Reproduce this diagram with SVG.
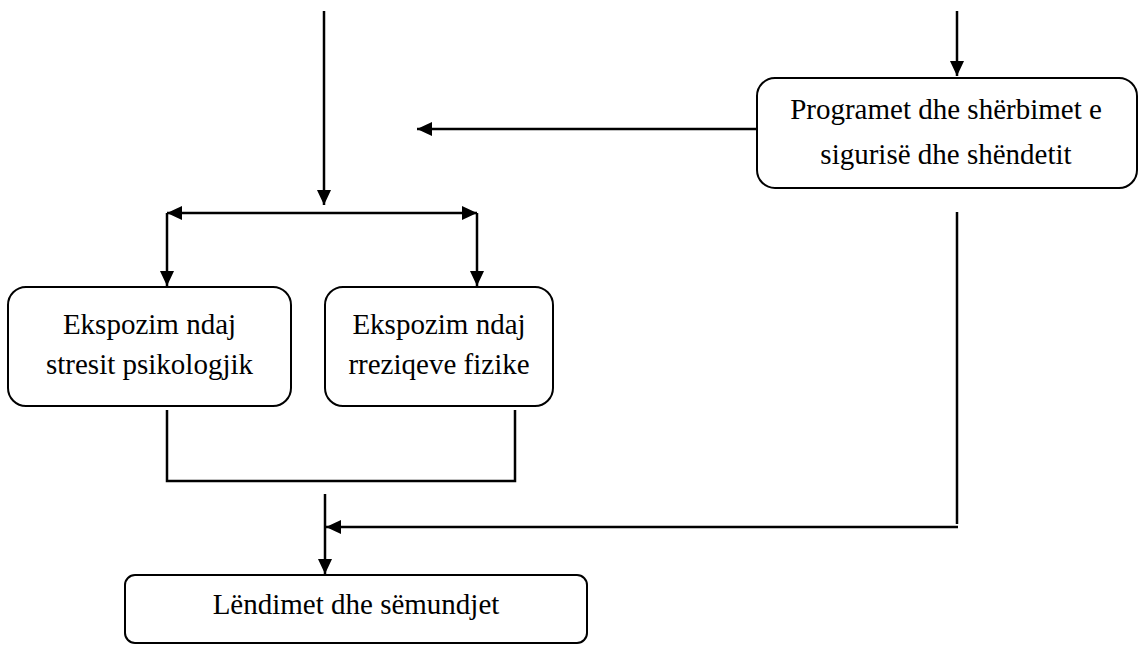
<svg xmlns="http://www.w3.org/2000/svg" width="1138" height="645" viewBox="0 0 1138 645">
<style>
.box{fill:#fff;stroke:#000;stroke-width:2}
.lbl{font-family:"Liberation Serif","Times New Roman",serif;font-size:29px;fill:#000;text-anchor:middle}
.ln{fill:none;stroke:#000;stroke-width:2.5}
.arr{fill:none;stroke:#000;stroke-width:2.5;marker-end:url(#ah)}
</style>
<defs>
<marker id="ah" markerUnits="userSpaceOnUse" markerWidth="16" markerHeight="14" viewBox="0 0 16 14" refX="15" refY="7" orient="auto">
<path d="M0,0 L15,7 L0,14 Z" fill="#000"/>
</marker>
<marker id="as" markerUnits="userSpaceOnUse" markerWidth="16" markerHeight="14" viewBox="0 0 16 14" refX="15" refY="7" orient="auto-start-reverse">
<path d="M0,0 L15,7 L0,14 Z" fill="#000"/>
</marker>
</defs>
<rect width="1138" height="645" fill="#fff"/>
<g id="connectors">
<line class="arr" x1="324" y1="11" x2="324" y2="205"/>
<line class="arr" x1="957" y1="11" x2="957" y2="76"/>
<line class="arr" x1="757" y1="129" x2="417" y2="129"/>
<line class="ln" x1="167" y1="213" x2="477" y2="213" marker-start="url(#as)" marker-end="url(#as)"/>
<line class="arr" x1="167" y1="213" x2="167" y2="286"/>
<line class="arr" x1="477" y1="213" x2="477" y2="286"/>
<polyline class="ln" points="167,410 167,481 515,481 515,410"/>
<line class="arr" x1="325" y1="494" x2="325" y2="574"/>
<line class="ln" x1="957" y1="212" x2="957" y2="524"/>
<line class="arr" x1="958" y1="527" x2="326" y2="527"/>
</g>
<g id="node-programet">
<rect class="box" x="757" y="78" width="380" height="110" rx="18"/>
<text class="lbl" x="946" y="119">Programet dhe shërbimet e</text>
<text class="lbl" x="946" y="164">sigurisë dhe shëndetit</text>
</g>
<g id="node-stres">
<rect class="box" x="8" y="287" width="283" height="119" rx="18"/>
<text class="lbl" x="149.5" y="334">Ekspozim ndaj</text>
<text class="lbl" x="149.5" y="374">stresit psikologjik</text>
</g>
<g id="node-rreziqe">
<rect class="box" x="325" y="287" width="228" height="119" rx="18"/>
<text class="lbl" x="439" y="334">Ekspozim ndaj</text>
<text class="lbl" x="439" y="374">rreziqeve fizike</text>
</g>
<g id="node-lendimet">
<rect class="box" x="125" y="575" width="462" height="68" rx="10"/>
<text class="lbl" x="356" y="614">Lëndimet dhe sëmundjet</text>
</g>
</svg>
